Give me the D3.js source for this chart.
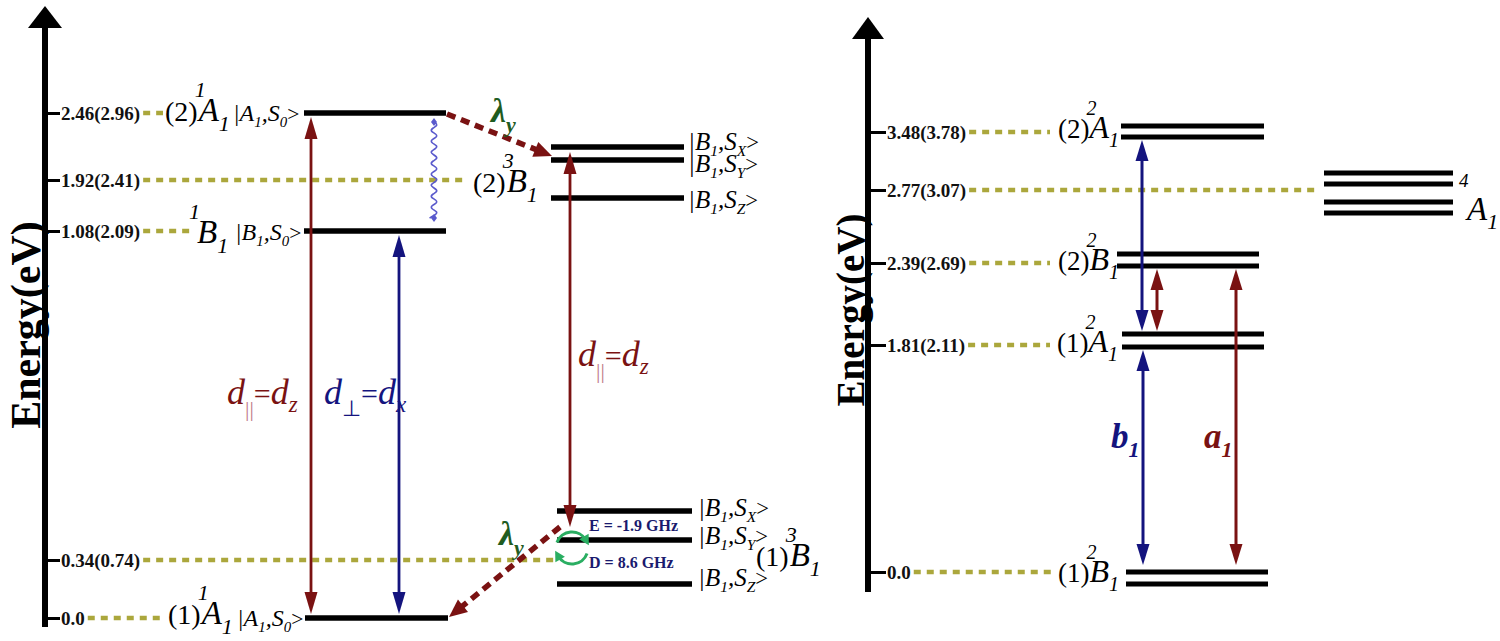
<!DOCTYPE html>
<html><head><meta charset="utf-8">
<script src="https://cdn.jsdelivr.net/npm/d3@7"></script>
<style>body{margin:0;background:#fff}svg{display:block}</style>
</head><body>
<svg id="c" width="1500" height="641"></svg>
<script>
// ---------------- DATA ----------------
const leftTickValues  = [2.46, 1.92, 1.08, 0.34, 0.0];
const leftTickLabels  = ["2.46(2.96)", "1.92(2.41)", "1.08(2.09)", "0.34(0.74)", "0.0"];
const rightTickValues = [3.48, 2.77, 2.39, 1.81, 0.0];
const rightTickLabels = ["3.48(3.78)", "2.77(3.07)", "2.39(2.69)", "1.81(2.11)", "0.0"];

const singletEnergies = [2.46, 1.08, 0.0];          // (2)1A1, 1B1, (1)1A1
const singletNames    = [["(2)","1","A","1"], ["","1","B","1"], ["(1)","1","A","1"]];
const singletKets     = [["A","0"], ["B","0"], ["A","0"]];
const tripletEnergies = [1.92, 0.34];               // (2)3B1, (1)3B1
const tripletNames    = [["(2)","3","B","1"], ["(1)","3","B","1"]];
const tripletSublevels = ["X", "Y", "Z"];
const zfsLabels = ["E = -1.9 GHz", "D = 8.6 GHz"];

const doubletEnergies = [3.48, 2.39, 1.81, 0.0];
const doubletNames    = [["(2)","2","A","1"], ["(2)","2","B","1"], ["(1)","2","A","1"], ["(1)","2","B","1"]];
const quartetEnergies = [2.77];
const quartetName     = ["4","A","1"];

// transitions: [lower E, upper E]
const dParallel = [0.0, 2.46];
const dPerp     = [0.0, 1.08];
const dTriplet  = [0.34, 1.92];
const b1Trans   = [[1.81, 3.48], [0.0, 1.81]];
const a1Trans   = [[1.81, 2.39], [0.0, 2.39]];

// ---------------- STYLE / LAYOUT ----------------
const FONT = "'Liberation Serif','Times New Roman',serif";
const RED = "#7a1212", BLUE = "#14147e", OLIVE = "#aba73c", GREEN = "#1f5c1f", LGREEN = "#2aae62";
const svg = d3.select("#c");

// schematic (non-linear) energy placement
const yL = d3.scaleLinear().domain([0, 0.34, 1.08, 1.92, 2.46]).range([618, 560, 231, 180, 113]);
const yR = d3.scaleLinear().domain([0, 1.81, 2.39, 2.77, 3.48]).range([572, 345, 263, 190, 132]);

// helpers
function rich(x, y, parts, color, anchor) {
  const t = svg.append("text").attr("x", x).attr("y", y)
    .attr("font-family", FONT).attr("fill", color || "#000")
    .attr("text-anchor", anchor || "start");
  let shift = 0;
  parts.forEach(p => {
    const ts = t.append("tspan").text(p.t);
    const target = p.sh || 0;
    if (target - shift !== 0) ts.attr("dy", target - shift);
    shift = target;
    if (p.dx) ts.attr("dx", p.dx);
    ts.attr("font-size", p.s).attr("font-style", p.i ? "italic" : "normal")
      .attr("font-weight", p.b ? "bold" : "normal");
    if (p.fill) ts.attr("fill", p.fill);
  });
  return t;
}
function stateLabel(x, y, name, big, small) {
  const [pre, mult, sym, sub] = name;
  const parts = [];
  if (pre) parts.push({t: pre, s: big - 2});
  parts.push({t: mult, s: small, i: true, sh: -big * 0.8, dx: pre ? -3 : 0});
  parts.push({t: sym, s: big + 3, i: true, sh: 0, dx: pre ? -7 : -3});
  parts.push({t: sub, s: small, i: true, sh: big * 0.32});
  return rich(x, y, parts);
}
function ket(x, y, letter, sub, size) {
  return rich(x, y, [
    {t: "|", s: size, i: true},
    {t: letter, s: size, i: true},
    {t: "1", s: size * 0.62, i: true, sh: size * 0.25},
    {t: ",", s: size, i: true, sh: 0},
    {t: "S", s: size, i: true},
    {t: sub, s: size * 0.62, i: true, sh: size * 0.25},
    {t: ">", s: size * 0.9, sh: 0}
  ]);
}
function bar(x1, x2, y, w) {
  svg.append("line").attr("x1", x1).attr("x2", x2).attr("y1", y).attr("y2", y)
    .attr("stroke", "#000").attr("stroke-width", w || 5.5);
}
function head(x, y, ang, color, len, hw) {
  const bx = x - len * Math.cos(ang), by = y - len * Math.sin(ang);
  const px = -Math.sin(ang) * hw, py = Math.cos(ang) * hw;
  svg.append("path").attr("d", `M${x},${y}L${bx + px},${by + py}L${bx - px},${by - py}Z`).attr("fill", color);
}
function arrow(x1, y1, x2, y2, color, opt) {
  opt = opt || {};
  const len = opt.len || 20, hw = opt.hw || 6.5;
  const ang = Math.atan2(y2 - y1, x2 - x1);
  let sx = x1, sy = y1;
  if (opt.both) { sx = x1 + len * 0.8 * Math.cos(ang); sy = y1 + len * 0.8 * Math.sin(ang); }
  const ex = x2 - len * 0.8 * Math.cos(ang), ey = y2 - len * 0.8 * Math.sin(ang);
  const l = svg.append("line").attr("x1", sx).attr("y1", sy).attr("x2", ex).attr("y2", ey)
    .attr("stroke", color).attr("stroke-width", opt.w || 3);
  if (opt.dash) l.attr("stroke-dasharray", opt.dash);
  head(x2, y2, ang, color, len, hw);
  if (opt.both) head(x1, y1, ang + Math.PI, color, len, hw);
}
function energyAxis(x, scale, values, labels, tipY, bottomY, hw, dashEnds, tickLen) {
  const ax = d3.axisRight(scale).tickValues(values).tickFormat((d, i) => labels[i])
    .tickSize(tickLen).tickPadding(1);
  const g = svg.append("g").attr("transform", `translate(${x},0)`).call(ax);
  g.attr("font-family", FONT);
  g.select(".domain").remove();
  g.selectAll(".tick line").attr("stroke", "#000").attr("stroke-width", 3);
  g.selectAll(".tick text").attr("font-family", FONT).attr("font-size", 19)
    .attr("font-weight", "bold").attr("fill", "#111");
  svg.append("line").attr("x1", x).attr("x2", x).attr("y1", tipY + 15).attr("y2", bottomY)
    .attr("stroke", "#000").attr("stroke-width", 6);
  svg.append("path").attr("d", `M${x},${tipY}L${x - hw},${tipY + 22}L${x + hw},${tipY + 22}Z`).attr("fill", "#000");
  g.selectAll(".tick text").each(function (d, i) {
    const w = this.getComputedTextLength();
    const xs = x + tickLen + 1 + w + 3;
    svg.append("line").attr("x1", xs).attr("x2", dashEnds[i]).attr("y1", scale(d)).attr("y2", scale(d))
      .attr("stroke", OLIVE).attr("stroke-width", 4.5).attr("stroke-dasharray", "7,6");
  });
}

// ---------------- LEFT PANEL ----------------
energyAxis(45, yL, leftTickValues, leftTickLabels, 6, 627, 17, [163, 466, 190, 556, 163], 15);

svg.append("text").attr("transform", `translate(40,325) rotate(-90)`)
  .attr("text-anchor", "middle").attr("font-family", FONT).attr("font-weight", "bold")
  .attr("font-size", 42).text("Energy(eV)");

const singletBarX = [[304, 446], [304, 446], [305, 448]];
const singletLabelPos = [[165, 121], [189, 243], [168, 624]];
const singletKetPos = [[233, 121], [235, 240], [237, 626]];
singletEnergies.forEach((e, i) => {
  bar(singletBarX[i][0], singletBarX[i][1], yL(e));
  stateLabel(singletLabelPos[i][0], singletLabelPos[i][1], singletNames[i], 30, 22);
  ket(singletKetPos[i][0], singletKetPos[i][1], singletKets[i][0], singletKets[i][1], 24);
});

const tripletOffsets = [[-33, -20, 18], [-49, -20, 24]];
const tripletBarX = [[551, 684], [557, 692]];
const tripletKetX = [688, 698];
const tripletKetDy = [[-30, -8, 28], [-44, -16, 26]];
const tripletLabelPos = [[473, 192], [756, 566]];
tripletEnergies.forEach((e, i) => {
  tripletOffsets[i].forEach((o, j) => {
    bar(tripletBarX[i][0], tripletBarX[i][1], yL(e) + o, 5.5);
    ket(tripletKetX[i], yL(e) + tripletKetDy[i][j], "B", tripletSublevels[j], 25);
  });
  stateLabel(tripletLabelPos[i][0], tripletLabelPos[i][1], tripletNames[i], 30, 22);
});

zfsLabels.forEach((t, i) => {
  svg.append("text").attr("x", 589).attr("y", [531, 568][i]).attr("font-family", FONT)
    .attr("font-weight", "bold").attr("font-size", 16).attr("fill", "#1a1a6e").text(t);
});

arrow(311, yL(dParallel[1]) + 4, 311, yL(dParallel[0]) - 4, RED, {both: true, w: 2.8, len: 22});
arrow(399, yL(dPerp[1]) + 4, 399, yL(dPerp[0]) - 4, BLUE, {both: true, w: 2.8, len: 22});
arrow(570, yL(dTriplet[1]) + tripletOffsets[0][0] + 5, 570, yL(dTriplet[0]) + tripletOffsets[1][0] + 16, RED,
  {both: true, w: 2.8, len: 22});

arrow(447, yL(2.46) + 1, 552, yL(1.92) + tripletOffsets[0][0] + 9, RED, {dash: "9,6", w: 5.5, len: 18, hw: 8});
arrow(560, yL(0.34) + tripletOffsets[1][0] + 16, 449, yL(0.0) - 1, RED, {dash: "9,6", w: 5.5, len: 18, hw: 8});

[[491, 122], [499, 545]].forEach(p => {
  rich(p[0], p[1], [{t: "λ", s: 34, i: true, b: true}, {t: "y", s: 22, i: true, b: true, sh: 10}], GREEN);
});

(function () {
  const pts = [];
  const y0 = yL(2.46) + 9, y1 = yL(1.08) - 13;
  for (let y = y0; y <= y1; y += 3) pts.push([434 + 4.5 * Math.sin((y - y0) / 11 * 2 * Math.PI), y]);
  svg.append("path").attr("d", d3.line().curve(d3.curveBasis)(pts)).attr("fill", "none")
    .attr("stroke", "#5a5acc").attr("stroke-width", 1.6);
  [[434, y0], [434, y1]].forEach(p => svg.append("path")
    .attr("d", `M${p[0]},${p[1] - 4}L${p[0] + 3},${p[1]}L${p[0]},${p[1] + 4}L${p[0] - 3},${p[1]}Z`).attr("fill", "#5a5acc"));
})();

(function () {
  const cx = 572, cy = 548, r = 16;
  const pt = a => [cx + r * Math.cos(a), cy + r * Math.sin(a)];
  [[200, 330], [20, 150]].forEach(([a0, a1]) => {
    const p0 = pt(a0 * Math.PI / 180), p1 = pt(a1 * Math.PI / 180);
    svg.append("path").attr("d", `M${p0[0]},${p0[1]}A${r},${r} 0 0 1 ${p1[0]},${p1[1]}`)
      .attr("fill", "none").attr("stroke", LGREEN).attr("stroke-width", 3);
    const a = a1 * Math.PI / 180, tang = a + Math.PI / 2;
    const tip = [p1[0] + 6 * Math.cos(tang), p1[1] + 6 * Math.sin(tang)];
    head(tip[0], tip[1], tang, LGREEN, 10, 5.5);
  });
})();

function dLabel(x, y, sub, color, sub2, subColor) {
  rich(x, y, [
    {t: "d", s: 36, i: true},
    {t: sub, s: 22, sh: 12, fill: subColor},
    {t: "=", s: 30, sh: 0},
    {t: "d", s: 36, i: true},
    {t: sub2, s: 23, i: true, sh: 8}
  ], color);
}
dLabel(227, 404, "||", RED, "z", "#c07a8a");
dLabel(324, 404, "⊥", BLUE, "x");
dLabel(578, 366, "||", RED, "z", "#c07a8a");

// ---------------- RIGHT PANEL ----------------
energyAxis(868, yR, rightTickValues, rightTickLabels, 17, 592, 16, [1050, 1318, 1050, 1050, 1055], 18);

svg.append("text").attr("transform", `translate(864,310) rotate(-90)`)
  .attr("text-anchor", "middle").attr("font-family", FONT).attr("font-weight", "bold")
  .attr("font-size", 39).text("Energy(eV)");

const doubletOffsets = [[-6, 5], [-9, 3], [-11, 2], [0, 12]];
const doubletBarX = [[1121, 1264], [1117, 1259], [1122, 1264], [1126, 1268]];
const doubletLabelPos = [[1058, 138], [1058, 270], [1057, 352], [1058, 582]];
doubletEnergies.forEach((e, i) => {
  doubletOffsets[i].forEach(o => bar(doubletBarX[i][0], doubletBarX[i][1], yR(e) + o, 5));
  stateLabel(doubletLabelPos[i][0], doubletLabelPos[i][1], doubletNames[i], 29, 20);
});

const quartetOffsets = [-17, -6, 12, 23];
quartetEnergies.forEach(e => {
  quartetOffsets.forEach(o => bar(1324, 1453, yR(e) + o, 5));
  rich(1459, yR(e) - 3, [{t: quartetName[0], s: 19, i: true}]);
  rich(1467, yR(e) + 30, [{t: quartetName[1], s: 33, i: true}, {t: quartetName[2], s: 22, i: true, sh: 9}]);
});

function doubletY(e, k) { const i = doubletEnergies.indexOf(e); return yR(e) + doubletOffsets[i][k]; }
arrow(1142, doubletY(b1Trans[0][1], 1) + 3, 1142, doubletY(b1Trans[0][0], 0) - 3, BLUE, {both: true, w: 3, len: 21});
arrow(1143, doubletY(b1Trans[1][1], 1) + 3, 1143, doubletY(b1Trans[1][0], 0) - 7, BLUE, {both: true, w: 3, len: 21});
arrow(1157, doubletY(a1Trans[0][1], 1) + 3, 1157, doubletY(a1Trans[0][0], 0) - 3, RED, {both: true, w: 3, len: 21});
arrow(1236, doubletY(a1Trans[1][1], 1) + 3, 1236, doubletY(a1Trans[1][0], 0) - 7, RED, {both: true, w: 3, len: 21});

rich(1111, 448, [{t: "b", s: 35, i: true, b: true}, {t: "1", s: 22, i: true, b: true, sh: 9}], BLUE);
rich(1204, 448, [{t: "a", s: 35, i: true, b: true}, {t: "1", s: 22, i: true, b: true, sh: 9}], RED);
</script>
</body></html>
